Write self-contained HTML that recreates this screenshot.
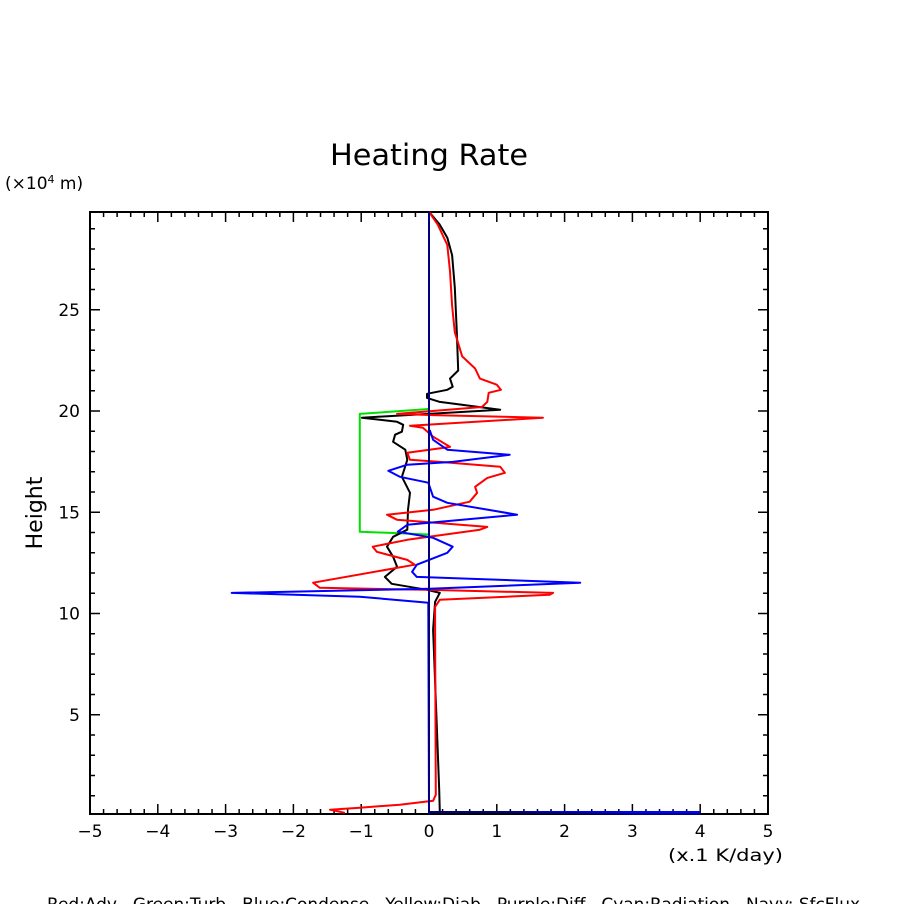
<!DOCTYPE html>
<html><head><meta charset="utf-8"><style>
body{margin:0;background:#fff;}
svg{display:block;font-family:"DejaVu Sans","Liberation Sans",sans-serif;}
</style></head><body>
<svg id="chart" width="904" height="904" viewBox="0 0 904 904">
<text x="330" y="165" font-size="29" textLength="198" lengthAdjust="spacingAndGlyphs" fill="#000">Heating Rate</text>
<text x="5" y="189" font-size="17" fill="#000">(×10<tspan font-size="11" dy="-6">4</tspan><tspan dy="6"> m)</tspan></text>
<text x="42" y="513" font-size="22" text-anchor="middle" fill="#000" transform="rotate(-90 42 513)">Height</text>
<text x="668" y="861" font-size="17" textLength="115" lengthAdjust="spacingAndGlyphs" fill="#000">(x.1 K/day)</text>
<text x="47" y="910" font-size="17" textLength="813" lengthAdjust="spacing" fill="#000" xml:space="preserve">Red:Adv   Green:Turb   Blue:Condense   Yellow:Diab   Purple:Diff   Cyan:Radiation   Navy: SfcFlux</text>
<g id="axes"></g>
<g id="series"></g>
</svg>
<script>
const xTicks=[-5,-4,-3,-2,-1,0,1,2,3,4,5];
const yTicks=[5,10,15,20,25];
const blackX=[0,0.16,0.27,0.34,0.38,0.41,0.43,0.31,0.35,0.27,-0.03,-0.03,0.16,1.05,-0.99,-0.47,-0.38,-0.40,-0.50,-0.53,-0.35,-0.32,-0.40,-0.28,-0.31,-0.32,-0.53,-0.62,-0.53,-0.47,-0.65,-0.55,-0.03,0.16,0.09,0.06,0.10,0.15,0.16];
const blackH=[29.84,29.2,28.56,27.7,26.1,23.9,22.0,21.6,21.2,21.05,20.85,20.65,20.45,20.06,19.67,19.47,19.32,18.98,18.83,18.48,18.09,17.59,16.75,15.96,15.12,14.14,13.79,13.30,12.80,12.31,11.81,11.47,11.17,11.02,10.58,9.2,5.74,1.3,0.2];
const redX=[0,0.13,0.27,0.31,0.34,0.38,0.49,0.68,0.75,1.0,1.06,0.88,0.86,0.78,-0.47,0.06,1.68,-0.28,-0.09,0.06,0.31,0.21,-0.32,-0.28,0.16,1.05,1.12,0.86,0.68,0.71,0.6,0.06,-0.62,-0.47,0.86,0.75,-0.32,-0.83,-0.77,-0.32,-0.21,-1.71,-1.61,-0.03,1.83,1.78,0.16,0.09,0.09,0.10,0.06,-0.43,-1.02,-1.46,-1.24];
const redH=[29.84,29.2,28.2,26.9,25.2,23.9,22.7,22.1,21.6,21.3,21.05,20.9,20.45,20.2,19.86,19.8,19.67,19.27,19.17,18.73,18.23,18.18,17.94,17.59,17.49,17.25,16.95,16.7,16.26,15.96,15.52,15.12,14.88,14.63,14.28,14.14,13.64,13.30,13.05,12.65,12.41,11.52,11.27,11.17,11.02,10.93,10.68,10.33,9.2,1.05,0.75,0.56,0.41,0.31,0.16];
const blueX=[0.01,0.06,0.27,1.19,0.35,-0.32,-0.60,-0.43,-0.01,0.06,0.27,1.30,-0.32,-0.46,0.06,0.35,0.27,-0.18,-0.25,-0.18,2.23,0.01,-2.91,-1.02,-0.01,0,0,4];
const blueH=[19.07,18.58,18.09,17.84,17.49,17.35,17.05,16.75,16.46,15.77,15.47,14.88,14.38,14.04,13.74,13.30,13.0,12.41,12.06,11.81,11.52,11.22,11.02,10.83,10.53,0.3,0.2,0.2];
const greenX=[0,-1.02,-1.02,0];
const greenH=[20.1,19.86,14.04,13.9];
const navyX=[0,0,0,1,2,3,4];
const navyH=[29.84,0.1,0.2,0.2,0.15,0.1,0.1];

const NS="http://www.w3.org/2000/svg";
const L=90,R=768,T=212,B=814;
const X=v=>429+v*67.8;
const Y=h=>B-(h-0.1)*20.25;
const axes=document.getElementById('axes');
const series=document.getElementById('series');
function mk(tag,attrs,parent){const e=document.createElementNS(NS,tag);for(const k in attrs)e.setAttribute(k,attrs[k]);parent.appendChild(e);return e;}
const frame=mk('rect',{x:L,y:T,width:R-L,height:B-T,fill:'none',stroke:'#000','stroke-width':2},axes);


let d='';
for(let v=-5;v<=5.001;v+=0.2){const px=X(v);const major=Math.abs(v-Math.round(v))<0.01;const len=major?10:5;d+=`M${px},${B}v${-len}M${px},${T}v${len}`;}
for(let h=1;h<=29;h++){const py=Y(h);const len=h%5===0?10:5;d+=`M${L},${py}h${len}M${R},${py}h${-len}`;}
const ticks=mk('path',{d:d,stroke:'#000','stroke-width':1.5,fill:'none'},axes);


xTicks.forEach(v=>{const t=mk('text',{x:X(v),y:837,'font-size':17,'text-anchor':'middle'},axes);t.textContent=(v<0?'\u2212'+(-v):v);

});
yTicks.forEach(h=>{const t=mk('text',{x:80,y:Y(h)+6,'font-size':17,'text-anchor':'end'},axes);t.textContent=h;

});
function line(xs,hs,color,name){const pts=xs.map((v,i)=>X(v).toFixed(1)+','+Y(hs[i]).toFixed(1)).join(' ');
const p=mk('polyline',{points:pts,fill:'none',stroke:color,'stroke-width':2,'stroke-linejoin':'round'},series);

}
line(greenX,greenH,'#00e000','turb-line');
line(blackX,blackH,'#000','total-line');
line(redX,redH,'#ff0000','adv-line');
line(blueX,blueH,'#0000ff','condense-line');
line(navyX,navyH,'#000080','sfcflux-line');
</script>
</body></html>
